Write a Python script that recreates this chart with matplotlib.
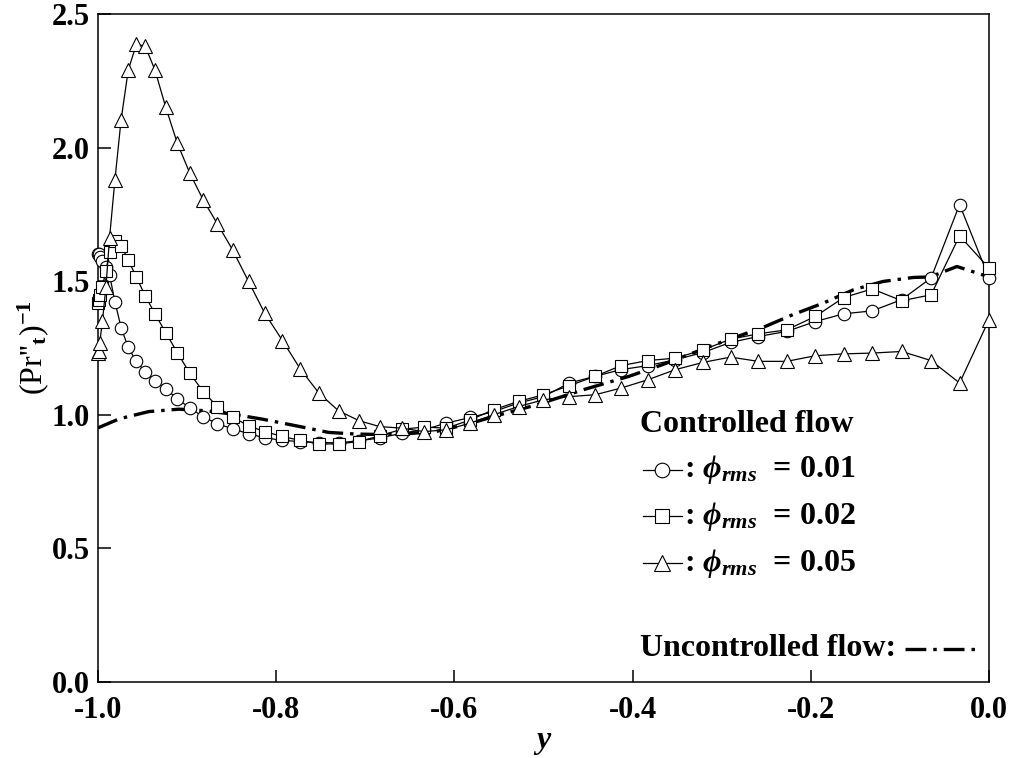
import numpy as np
import matplotlib
matplotlib.use('Agg')
import matplotlib.pyplot as plt
from matplotlib.lines import Line2D

plt.rcParams['font.family'] = ['Liberation Serif', 'DejaVu Serif']
plt.rcParams['font.weight'] = 'bold'
plt.rcParams['mathtext.fontset'] = 'custom'
plt.rcParams['mathtext.rm'] = 'Liberation Serif:bold'
plt.rcParams['mathtext.bf'] = 'Liberation Serif:bold'
plt.rcParams['mathtext.it'] = 'Liberation Serif:italic:bold'
plt.rcParams['lines.scale_dashes'] = False

# wall-normal grid points
y_grid = [-1.000, -0.999, -0.998, -0.995, -0.991, -0.987, -0.981, -0.974, -0.966, -0.957,
          -0.947, -0.936, -0.924, -0.911, -0.897, -0.882, -0.866, -0.849, -0.831, -0.813,
          -0.793, -0.773, -0.752, -0.730, -0.707, -0.684, -0.659, -0.634, -0.609, -0.582,
          -0.556, -0.528, -0.500, -0.471, -0.442, -0.413, -0.383, -0.352, -0.321, -0.290,
          -0.259, -0.227, -0.195, -0.163, -0.131, -0.098, -0.065, -0.033, 0.000]

prt_001 = [1.600, 1.600, 1.590, 1.575, 1.555, 1.524, 1.424, 1.326, 1.252, 1.200,
           1.162, 1.128, 1.097, 1.060, 1.026, 0.993, 0.966, 0.948, 0.929, 0.914,
           0.904, 0.900, 0.896, 0.895, 0.903, 0.913, 0.931, 0.944, 0.969, 0.990,
           1.012, 1.044, 1.068, 1.119, 1.144, 1.169, 1.184, 1.206, 1.233, 1.271,
           1.293, 1.312, 1.349, 1.378, 1.389, 1.431, 1.512, 1.787, 1.512]

prt_002 = [1.420, 1.430, 1.450, 1.480, 1.540, 1.610, 1.649, 1.633, 1.580, 1.516,
           1.446, 1.378, 1.308, 1.233, 1.156, 1.087, 1.031, 0.991, 0.959, 0.937,
           0.919, 0.904, 0.891, 0.891, 0.900, 0.921, 0.946, 0.954, 0.950, 0.981,
           1.019, 1.050, 1.075, 1.109, 1.144, 1.184, 1.203, 1.212, 1.243, 1.283,
           1.303, 1.318, 1.368, 1.439, 1.471, 1.427, 1.449, 1.670, 1.549]

prt_005 = [1.230, 1.240, 1.270, 1.350, 1.480, 1.662, 1.878, 2.105, 2.290, 2.386,
           2.380, 2.290, 2.152, 2.017, 1.905, 1.805, 1.715, 1.618, 1.499, 1.381,
           1.278, 1.172, 1.081, 1.015, 0.978, 0.956, 0.950, 0.937, 0.944, 0.969,
           1.000, 1.031, 1.056, 1.068, 1.075, 1.100, 1.131, 1.169, 1.196, 1.216,
           1.200, 1.200, 1.221, 1.228, 1.231, 1.237, 1.203, 1.119, 1.356]

# uncontrolled flow
unc_y = [-1.0, -0.976, -0.943, -0.909, -0.879, -0.850, -0.816, -0.778, -0.741, -0.711,
         -0.680, -0.650, -0.620, -0.585, -0.549, -0.508, -0.455, -0.404, -0.367, -0.313,
         -0.291, -0.255, -0.220, -0.186, -0.152, -0.119, -0.085, -0.066, -0.036, 0.0]
unc_prt = [0.951, 0.985, 1.012, 1.021, 1.015, 1.003, 0.984, 0.959, 0.934, 0.928,
           0.926, 0.930, 0.938, 0.965, 1.000, 1.037, 1.094, 1.144, 1.187, 1.256,
           1.283, 1.325, 1.375, 1.418, 1.468, 1.499, 1.514, 1.516, 1.555, 1.516]

series = [(prt_001, 'o', 9.0, '0.01'),
          (prt_002, 's', 8.5, '0.02'),
          (prt_005, '^', 9.5, '0.05')]

fig = plt.figure(figsize=(10.13, 7.58), dpi=100)
ax = fig.add_axes([0.0967, 0.1003, 0.8796, 0.8812])

ax.plot(unc_y, unc_prt, color='black', lw=2.4, dashes=[15, 5, 2.5, 5], zorder=2)
for vals, mk, ms, lab in series:
    ax.plot(y_grid, vals, color='black', lw=0.9, marker=mk, ms=ms,
            mfc='white', mec='black', mew=0.8, zorder=3, clip_on=False)

ax.set_xlim(-1.0, 0.0)
ax.set_ylim(0.0, 2.5)
ax.set_xticks(np.arange(-1.0, 0.01, 0.2))
ax.set_yticks(np.arange(0.0, 2.51, 0.5))
ax.set_xticklabels(['-1.0', '-0.8', '-0.6', '-0.4', '-0.2', '0.0'])
ax.set_yticklabels(['0.0', '0.5', '1.0', '1.5', '2.0', '2.5'])
ax.tick_params(direction='in', length=9, width=1.1, labelsize=22)
ax.tick_params(axis='x', pad=10)
ax.tick_params(axis='y', pad=6)
for sp in ax.spines.values():
    sp.set_linewidth(1.1)

ax.set_xlabel('y', fontsize=23, fontstyle='italic', fontweight='bold', labelpad=1)
ax.set_ylabel(r"(Pr''$_\mathrm{t}$)$^{\mathrm{-1}}$", fontsize=23, labelpad=0)

# legend drawn by hand
tr = ax.transAxes
ax.text(0.608, 0.385, 'Controlled flow', transform=tr, fontsize=23,
        va='center', ha='left')
row_y = [0.318, 0.248, 0.178]
for (vals, mk, ms, lab), ry in zip(series, row_y):
    ax.add_line(Line2D([0.612, 0.655], [ry, ry], transform=tr, color='black',
                       lw=0.9, zorder=4))
    ax.add_line(Line2D([0.6335], [ry], transform=tr, marker=mk, ms=ms + 1.5,
                       mfc='white', mec='black', mew=0.8, zorder=5))
    ax.text(0.658, ry, r': $\phi_{rms}$  = ' + lab, transform=tr, fontsize=23,
            va='center', ha='left')

ax.text(0.608, 0.050, 'Uncontrolled flow:', transform=tr, fontsize=23,
        va='center', ha='left')
ax.add_line(Line2D([0.906, 0.985], [0.050, 0.050], transform=tr, color='black',
                   lw=2.4, dashes=[15, 5, 2.5, 5]))

fig.savefig('out.png', dpi=100)
